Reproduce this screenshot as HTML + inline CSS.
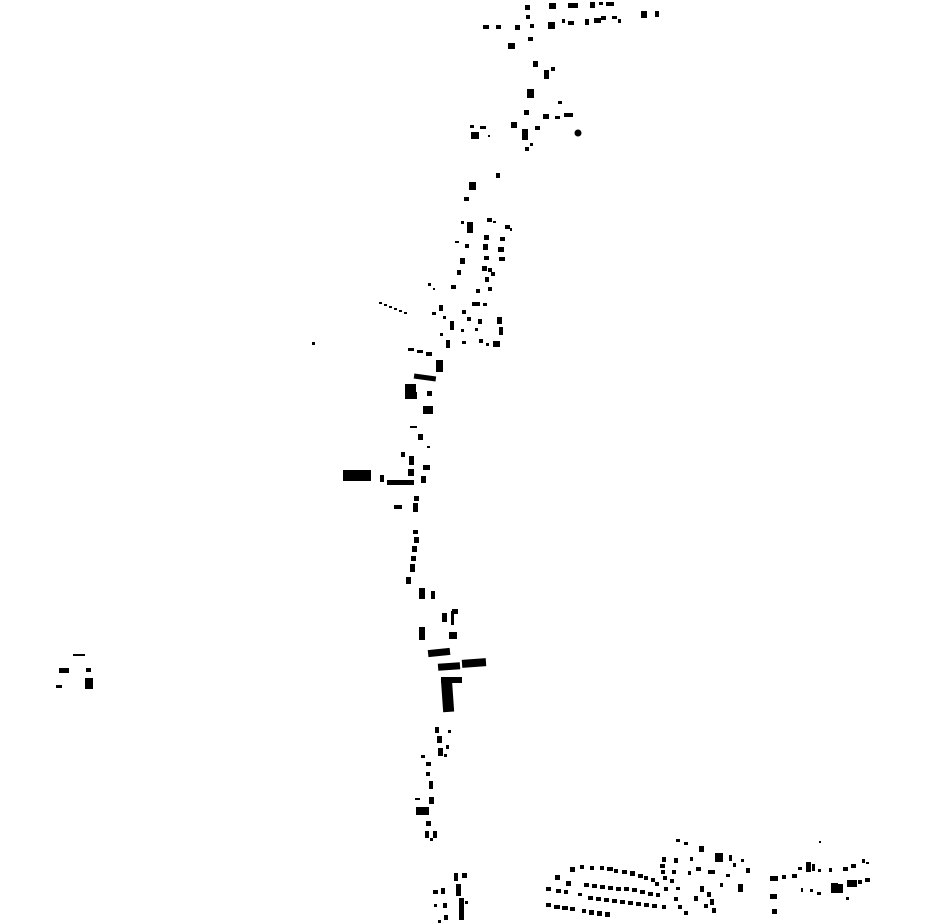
<!DOCTYPE html>
<html><head><meta charset="utf-8"><style>html,body{margin:0;padding:0;background:#fff}svg{display:block}</style></head>
<body>
<svg width="930" height="924" viewBox="0 0 930 924" xmlns="http://www.w3.org/2000/svg">
<rect width="930" height="924" fill="#fff"/>
<g fill="#000">
<!-- top -->
<rect x="525" y="5" width="5" height="5"/><rect x="526" y="15" width="4" height="4"/><rect x="549" y="3" width="7" height="6"/><rect x="568" y="3" width="10" height="5"/><rect x="590" y="2" width="5" height="6"/><rect x="599" y="2" width="4" height="3"/><rect x="606" y="2" width="8" height="4"/>
<rect x="483" y="25" width="6" height="4"/><rect x="496" y="25" width="5" height="4"/><rect x="515" y="25" width="5" height="5"/><rect x="530" y="24" width="4" height="4"/><rect x="548" y="22" width="7" height="7"/><rect x="562" y="19" width="3" height="4"/><rect x="568" y="21" width="6" height="4"/><rect x="585" y="19" width="4" height="6"/><rect x="594" y="18" width="7" height="5"/><rect x="601" y="16" width="5" height="4"/><rect x="612" y="16" width="5" height="3"/><rect x="618" y="19" width="3" height="4"/><rect x="641" y="11" width="6" height="7"/><rect x="655" y="11" width="4" height="6"/>
<rect x="508" y="43" width="7" height="6"/><rect x="528" y="37" width="5" height="4"/><rect x="533" y="61" width="5" height="6"/><rect x="544" y="70" width="5" height="9"/><rect x="551" y="67" width="4" height="4"/><rect x="527" y="89" width="7" height="9"/><rect x="558" y="101" width="4" height="3"/><rect x="524" y="110" width="5" height="5"/><rect x="543" y="114" width="6" height="5"/><rect x="555" y="116" width="5" height="3"/><rect x="564" y="113" width="9" height="4"/><rect x="535" y="126" width="5" height="4"/><rect x="511" y="122" width="6" height="6"/><rect x="522" y="129" width="6" height="11"/><rect x="530" y="143" width="3" height="3"/><rect x="525" y="147" width="4" height="4"/>
<rect x="470" y="125" width="4" height="3"/><rect x="480" y="126" width="6" height="3"/><rect x="471" y="132" width="8" height="7"/><rect x="488" y="135" width="2" height="2"/><circle cx="578" cy="133" r="3.5"/>
<rect x="496" y="173" width="4" height="5"/><rect x="469" y="182" width="7" height="8"/><rect x="464" y="197" width="5" height="4"/>
<rect x="461" y="221" width="3" height="3"/><rect x="467" y="222" width="6" height="11"/><rect x="487" y="218" width="5" height="4"/><rect x="493" y="221" width="3" height="2"/><rect x="505" y="225" width="5" height="4"/><rect x="510" y="228" width="2" height="3"/>
<rect x="455" y="241" width="4" height="2"/><rect x="465" y="244" width="4" height="4"/><rect x="484" y="235" width="5" height="5"/><rect x="483" y="244" width="5" height="6"/><rect x="500" y="237" width="5" height="4"/><rect x="498" y="247" width="6" height="5"/><rect x="460" y="258" width="5" height="6"/><rect x="484" y="256" width="5" height="4"/><rect x="499" y="257" width="6" height="4"/><rect x="482" y="266" width="5" height="5"/><rect x="488" y="268" width="4" height="4"/><rect x="485" y="277" width="4" height="5"/><rect x="491" y="272" width="4" height="4"/><rect x="457" y="270" width="4" height="5"/><rect x="451" y="285" width="5" height="4"/><rect x="428" y="283" width="3" height="3"/><rect x="433" y="288" width="2" height="2"/><rect x="476" y="289" width="4" height="4"/><rect x="488" y="287" width="4" height="4"/>
<rect x="472" y="302" width="8" height="4"/><rect x="483" y="303" width="4" height="3"/><rect x="439" y="305" width="4" height="6"/><rect x="432" y="312" width="4" height="3"/><rect x="462" y="310" width="4" height="4"/><rect x="467" y="317" width="4" height="4"/><rect x="478" y="319" width="4" height="5"/><rect x="497" y="317" width="5" height="7"/><rect x="499" y="327" width="4" height="8"/><rect x="450" y="321" width="4" height="9"/><rect x="461" y="329" width="3" height="3"/><rect x="440" y="333" width="3" height="3"/><rect x="446" y="340" width="4" height="8"/><rect x="462" y="341" width="4" height="3"/><rect x="479" y="339" width="4" height="4"/><rect x="486" y="343" width="3" height="3"/><rect x="493" y="341" width="7" height="6"/><rect x="443" y="316" width="3" height="3"/><rect x="475" y="328" width="3" height="3"/>
<rect x="379" y="302" width="3" height="2"/><rect x="384" y="304" width="3" height="2"/><rect x="389" y="306" width="3" height="2"/><rect x="394" y="308" width="3" height="2"/><rect x="399" y="310" width="3" height="2"/><rect x="404" y="312" width="3" height="2"/>
<rect x="312" y="342" width="3" height="3"/>
<!-- middle -->
<rect x="408" y="348" width="6" height="3"/><rect x="417" y="350" width="6" height="3"/><rect x="426" y="352" width="6" height="4"/>
<rect x="436" y="360" width="7" height="12"/><rect x="414" y="375" width="22" height="5" transform="rotate(8 425 377)"/><rect x="405" y="384" width="11" height="15"/><rect x="412" y="392" width="5" height="7"/><rect x="427" y="391" width="5" height="5"/><rect x="423" y="406" width="10" height="8"/>
<rect x="410" y="426" width="7" height="2"/><rect x="418" y="434" width="5" height="6"/><rect x="427" y="446" width="3" height="2"/><rect x="401" y="452" width="4" height="5"/><rect x="409" y="456" width="5" height="9"/><rect x="423" y="465" width="7" height="5"/><rect x="408" y="469" width="6" height="7"/><rect x="343" y="470" width="28" height="11"/><rect x="380" y="475" width="4" height="7"/><rect x="387" y="480" width="27" height="5"/><rect x="421" y="476" width="5" height="7"/><rect x="414" y="496" width="5" height="5"/><rect x="394" y="505" width="8" height="4"/><rect x="413" y="503" width="5" height="9"/>
<rect x="413" y="530" width="5" height="4"/><rect x="414" y="537" width="5" height="6"/><rect x="412" y="546" width="5" height="6"/><rect x="411" y="556" width="5" height="5"/><rect x="410" y="564" width="5" height="8"/><rect x="406" y="577" width="5" height="7"/><rect x="419" y="588" width="6" height="11"/><rect x="431" y="591" width="4" height="8"/><rect x="442" y="613" width="5" height="9"/><rect x="452" y="609" width="6" height="5"/><rect x="451" y="611" width="3" height="14"/><rect x="419" y="627" width="6" height="13"/><rect x="449" y="632" width="8" height="7"/>
<rect x="428" y="649" width="22" height="7" transform="rotate(-6 439 652)"/><rect x="438" y="663" width="22" height="7" transform="rotate(-4 449 666)"/><rect x="462" y="659" width="24" height="8" transform="rotate(-4 474 663)"/><rect x="441" y="677" width="21" height="6"/><rect x="442" y="679" width="11" height="33" transform="rotate(-4 447 695)"/>
<rect x="435" y="727" width="4" height="6"/><rect x="437" y="736" width="5" height="7"/><rect x="448" y="730" width="3" height="3"/><rect x="438" y="748" width="5" height="8"/><rect x="446" y="745" width="3" height="4"/><rect x="444" y="754" width="3" height="3"/><rect x="421" y="755" width="4" height="3"/><rect x="426" y="762" width="5" height="4"/><rect x="426" y="772" width="4" height="4"/><rect x="429" y="781" width="4" height="8"/><rect x="415" y="798" width="5" height="2"/><rect x="429" y="797" width="5" height="7"/><rect x="416" y="807" width="13" height="8"/><rect x="426" y="821" width="5" height="5"/><rect x="425" y="831" width="4" height="7"/><rect x="433" y="831" width="4" height="7"/><rect x="430" y="838" width="3" height="3"/>
<rect x="454" y="873" width="4" height="8"/><rect x="462" y="873" width="5" height="5"/><rect x="433" y="890" width="5" height="4"/><rect x="441" y="888" width="4" height="6"/><rect x="456" y="884" width="5" height="12"/><rect x="434" y="904" width="3" height="3"/><rect x="443" y="903" width="4" height="5"/><rect x="459" y="898" width="5" height="22"/><rect x="444" y="915" width="4" height="5"/><rect x="438" y="920" width="3" height="3"/><rect x="465" y="901" width="3" height="3"/>
<!-- left -->
<rect x="73" y="654" width="12" height="2"/><rect x="59" y="668" width="10" height="5"/><rect x="86" y="668" width="5" height="4"/><rect x="56" y="685" width="6" height="3"/><rect x="85" y="678" width="8" height="11"/>
<!-- bottom right -->
<g>
<rect x="555" y="875" width="5" height="5"/><rect x="570" y="867" width="5" height="5"/><rect x="580" y="865" width="4" height="4"/><rect x="590" y="866" width="4" height="4"/><rect x="600" y="866" width="4" height="4"/><rect x="607" y="867" width="6" height="4"/><rect x="614" y="869" width="4" height="4"/><rect x="622" y="870" width="5" height="4"/><rect x="630" y="871" width="5" height="5"/><rect x="638" y="874" width="5" height="4"/><rect x="644" y="876" width="4" height="4"/><rect x="651" y="878" width="4" height="4"/><rect x="655" y="882" width="4" height="4"/>
<rect x="566" y="881" width="5" height="5"/><rect x="584" y="883" width="5" height="4"/><rect x="592" y="884" width="5" height="4"/><rect x="600" y="885" width="5" height="4"/><rect x="608" y="886" width="5" height="4"/><rect x="616" y="887" width="5" height="4"/><rect x="624" y="887" width="5" height="4"/><rect x="632" y="888" width="5" height="4"/><rect x="640" y="890" width="5" height="4"/><rect x="648" y="892" width="5" height="4"/><rect x="656" y="893" width="4" height="4"/>
<rect x="546" y="887" width="5" height="4"/><rect x="556" y="889" width="5" height="4"/><rect x="564" y="890" width="4" height="4"/><rect x="578" y="893" width="4" height="3"/><rect x="588" y="896" width="5" height="4"/><rect x="596" y="897" width="5" height="4"/><rect x="604" y="898" width="5" height="4"/><rect x="612" y="899" width="5" height="4"/><rect x="620" y="900" width="5" height="4"/><rect x="628" y="901" width="5" height="4"/><rect x="636" y="902" width="5" height="4"/><rect x="644" y="903" width="5" height="4"/><rect x="652" y="904" width="5" height="4"/><rect x="662" y="905" width="4" height="4"/>
<rect x="546" y="903" width="5" height="4"/><rect x="554" y="905" width="6" height="4"/><rect x="562" y="906" width="6" height="4"/><rect x="570" y="907" width="5" height="4"/><rect x="582" y="909" width="4" height="4"/><rect x="589" y="910" width="5" height="5"/><rect x="597" y="911" width="5" height="5"/><rect x="605" y="912" width="5" height="5"/>
<rect x="662" y="857" width="4" height="5"/><rect x="660" y="864" width="5" height="4"/><rect x="661" y="870" width="4" height="4"/><rect x="663" y="876" width="4" height="4"/><rect x="664" y="887" width="4" height="4"/><rect x="674" y="858" width="4" height="5"/><rect x="672" y="870" width="4" height="4"/><rect x="670" y="879" width="4" height="4"/><rect x="676" y="887" width="4" height="3"/><rect x="674" y="897" width="4" height="4"/><rect x="678" y="905" width="4" height="4"/><rect x="684" y="911" width="4" height="4"/><rect x="694" y="896" width="4" height="5"/><rect x="700" y="886" width="4" height="6"/><rect x="707" y="892" width="4" height="5"/><rect x="704" y="904" width="4" height="4"/><rect x="710" y="899" width="4" height="6"/><rect x="712" y="908" width="4" height="5"/><rect x="676" y="839" width="4" height="3"/><rect x="684" y="842" width="4" height="3"/><rect x="699" y="846" width="5" height="6"/><rect x="715" y="853" width="8" height="9"/><rect x="729" y="855" width="3" height="6"/><rect x="733" y="863" width="3" height="4"/><rect x="741" y="859" width="3" height="3"/><rect x="746" y="868" width="4" height="5"/><rect x="738" y="884" width="5" height="8"/><rect x="726" y="874" width="4" height="3"/><rect x="720" y="883" width="3" height="4"/><rect x="696" y="867" width="5" height="4"/><rect x="708" y="870" width="7" height="4"/><rect x="690" y="857" width="3" height="4"/><rect x="688" y="871" width="3" height="4"/>
<rect x="770" y="876" width="8" height="5"/><rect x="782" y="875" width="4" height="4"/><rect x="792" y="874" width="5" height="4"/><rect x="798" y="867" width="4" height="3"/><rect x="806" y="862" width="5" height="10"/><rect x="812" y="864" width="3" height="7"/><rect x="818" y="869" width="3" height="3"/><rect x="819" y="841" width="2" height="2"/><rect x="829" y="868" width="3" height="4"/><rect x="843" y="867" width="5" height="4"/><rect x="851" y="864" width="5" height="4"/><rect x="862" y="859" width="3" height="4"/><rect x="866" y="862" width="3" height="2"/><rect x="770" y="894" width="7" height="5"/><rect x="801" y="888" width="2" height="4"/><rect x="810" y="889" width="3" height="3"/><rect x="817" y="892" width="4" height="3"/><rect x="831" y="883" width="7" height="10"/><rect x="838" y="884" width="5" height="9"/><rect x="847" y="880" width="10" height="7"/><rect x="858" y="880" width="4" height="4"/><rect x="865" y="878" width="5" height="4"/><rect x="772" y="909" width="5" height="5"/><rect x="846" y="897" width="3" height="3"/>
</g>
</g>
</svg>
</body></html>
